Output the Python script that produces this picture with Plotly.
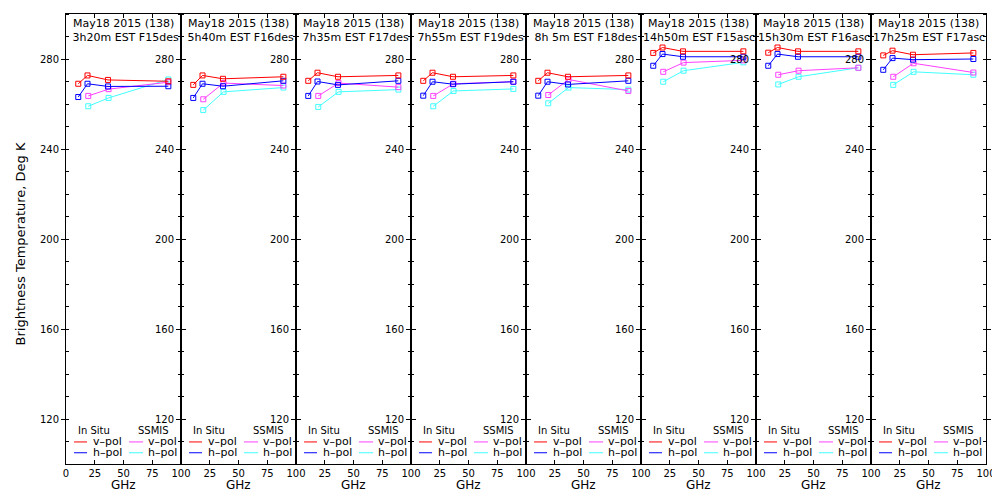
import plotly.graph_objects as go
from plotly.subplots import make_subplots

# frequencies (GHz)
freq_insitu = [10.65, 18.7, 36.5, 89.0]
freq_ssmis = [19.35, 37.0, 89.0]

# panel headers
dates = ["May18 2015 (138)"] * 8
times = ["\u00a03h20m EST F15des", "\u00a05h40m EST F16des", "\u00a07h35m EST F17des",
         "\u00a07h55m EST F19des", "\u00a08h\u00a05m EST F18des", "14h50m EST F15asc",
         "15h30m EST F16asc", "17h25m EST F17asc"]

# brightness temperatures, Deg K, one list per panel
insitu_v = [
    [269.0, 272.7, 270.7, 270.1],
    [268.5, 272.7, 271.2, 272.1],
    [270.3, 273.9, 272.1, 272.7],
    [270.3, 273.9, 272.1, 272.7],
    [270.3, 273.9, 272.1, 272.7],
    [282.7, 285.1, 283.4, 283.4],
    [282.8, 285.1, 283.4, 283.4],
    [281.6, 283.7, 281.9, 282.7],
]
insitu_h = [
    [263.1, 269.0, 267.8, 267.9],
    [262.7, 269.0, 267.9, 270.3],
    [263.6, 270.0, 268.5, 270.3],
    [263.7, 269.9, 268.8, 269.9],
    [263.7, 269.9, 268.7, 270.3],
    [277.0, 282.2, 281.0, 281.0],
    [277.0, 282.2, 281.0, 281.0],
    [275.2, 280.4, 279.7, 280.0],
]
ssmis_v = [
    [263.6, 266.6, 269.7],
    [262.1, 269.3, 268.2],
    [263.6, 269.3, 267.5],
    [263.6, 269.0, 269.9],
    [264.0, 270.9, 265.8],
    [274.3, 278.4, 279.4],
    [273.0, 274.8, 276.1],
    [272.1, 278.1, 274.0],
]
ssmis_h = [
    [259.0, 262.7, 270.9],
    [257.3, 265.4, 267.3],
    [258.7, 265.4, 266.4],
    [259.0, 265.8, 266.7],
    [260.3, 267.3, 266.4],
    [269.9, 274.8, 278.5],
    [268.7, 272.1, 276.1],
    [268.5, 274.3, 273.0],
]

RED, BLUE, MAG, CYAN = "#ff0000", "#0000ff", "#ff40ff", "#40ffff"
FONT = "DejaVu Sans"
n = len(times)

fig = make_subplots(rows=1, cols=n, horizontal_spacing=0)


def note(text, xr, yr, x, y, size=11, xanchor="center", **kw):
    fig.add_annotation(text=text, xref=xr, yref=yr, x=x, y=y, showarrow=False,
                       xanchor=xanchor, yanchor="middle",
                       font=dict(family=FONT, size=size, color="black"), **kw)


for i in range(n):
    col = i + 1
    series = [
        (freq_ssmis, ssmis_h[i], CYAN),
        (freq_ssmis, ssmis_v[i], MAG),
        (freq_insitu, insitu_h[i], BLUE),
        (freq_insitu, insitu_v[i], RED),
    ]
    for xs, ys, c in series:
        fig.add_trace(go.Scatter(
            x=xs, y=ys, mode="lines+markers",
            line=dict(color=c, width=1),
            marker=dict(symbol="square-open", size=5, color=c, line=dict(width=1, color=c)),
            showlegend=False, hoverinfo="x+y",
        ), row=1, col=col)

    xd = ("x" if col == 1 else f"x{col}") + " domain"
    yd = ("y" if col == 1 else f"y{col}") + " domain"

    # header text
    note(dates[i], xd, yd, 0.5, 0.978)
    note(times[i], xd, yd, 0.5, 0.948)

    # per-panel legend
    note("In Situ", xd, yd, 0.245, 0.075, size=10)
    note("SSMIS", xd, yd, 0.765, 0.075, size=10)
    for yy, lab, cl, cr in [(0.049, "v\u2013pol", RED, MAG), (0.025, "h\u2013pol", BLUE, CYAN)]:
        fig.add_shape(type="line", xref=xd, yref=yd,
                      x0=0.07, x1=0.183, y0=yy, y1=yy, line=dict(color=cl, width=1))
        fig.add_shape(type="line", xref=xd, yref=yd,
                      x0=0.548, x1=0.67, y0=yy, y1=yy, line=dict(color=cr, width=1))
        note(lab, xd, yd, 0.215, yy, xanchor="left")
        note(lab, xd, yd, 0.695, yy, xanchor="left")

    # x axis label
    note("GHz", xd, "paper", 0.5, -0.047, size=12)

    fig.update_xaxes(
        range=[0, 100], tickvals=[0, 25, 50, 75, 100],
        ticktext=["0" if col == 1 else "", "25", "50", "75", "100"],
        ticks="inside", ticklen=4, tickcolor="black", mirror="ticks",
        showline=True, linecolor="black", linewidth=1,
        showgrid=False, zeroline=False,
        tickfont=dict(family=FONT, size=10, color="black"),
        domain=[i / n, (i + 1) / n],
        row=1, col=col,
    )
    fig.update_yaxes(
        range=[100, 300], tickvals=[120, 160, 200, 240, 280],
        ticks="outside", ticklen=4, tickcolor="black", mirror="ticks",
        minor=dict(tick0=100, dtick=10, ticks="inside", ticklen=3, tickcolor="black"),
        showline=True, linecolor="black", linewidth=1,
        showgrid=False, zeroline=False,
        tickfont=dict(family=FONT, size=10, color="black"),
        row=1, col=col,
    )

note("Brightness Temperature, Deg K", "paper", "paper", -0.049, 0.49, size=13, textangle=-90)

# page body adds an 8px offset, margins compensate
fig.update_layout(
    width=1000, height=500,
    margin=dict(l=58, r=22, t=6, b=44),
    paper_bgcolor="white", plot_bgcolor="white",
    showlegend=False,
)

fig.write_html("out.html")
